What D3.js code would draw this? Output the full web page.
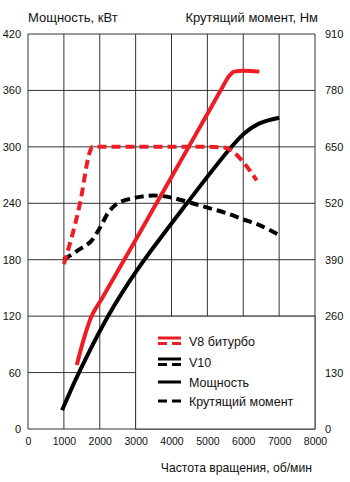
<!DOCTYPE html>
<html><head><meta charset="utf-8">
<script src="https://cdn.jsdelivr.net/npm/d3@7"></script>
<style>body{margin:0;background:#fff}svg{display:block}text{font-family:"Liberation Sans",Arial,sans-serif;fill:#111}</style>
</head><body><svg id="c" width="350" height="482"></svg>
<script>
// data
const xTicks = [0,1000,2000,3000,4000,5000,6000,7000,8000];
const powerTicks = [0,60,120,180,240,300,360,420];
const torqueTicks = [0,130,260,390,520,650,780,910];
const v8PowerRpm = [1360,1550,1750,2050,3000,4000,4420,5000,5400,5600,5750,6000,6450];
const v8PowerKw  = [68,95,118,138,201,268,296,335,362,375,380,381,380];
const v8TorqueRpm = [1000,1450,1730,1800,3000,4000,5000,5500,5700,6000,6375];
const v8TorqueNm  = [380,520,640,650,650,650,650,648,640,615,573];
const v10PowerRpm = [950,1420,2230,3040,4430,5650,6050,6450,7000];
const v10PowerKw  = [20,60,120,169,240,299,315,325,331];
const v10TorqueRpm = [990,1400,1750,2000,2250,2500,3000,3500,4000,4500,5000,5500,6000,6500,7000];
const v10TorqueNm  = [390,412,432,463,500,520,533,538,533,522,510,498,483,468,447];
const legendLabels = ["V8 битурбо","V10","Мощность","Крутящий момент"];

const svg = d3.select("#c");
const x = d3.scaleLinear().domain([0,8000]).range([28,315]);
const yP = d3.scaleLinear().domain([0,420]).range([429,34]);
const yT = d3.scaleLinear().domain([0,910]).range([429,34]);
const red = "#ee1c25", grid = "#333";

// grid
svg.append("g").selectAll("line").data(xTicks).join("line")
  .attr("x1",d=>x(d)).attr("x2",d=>x(d)).attr("y1",yP(0)).attr("y2",yP(420))
  .attr("stroke",grid).attr("stroke-width",1);
svg.append("g").selectAll("line").data(powerTicks).join("line")
  .attr("x1",x(0)).attr("x2",x(8000)).attr("y1",d=>yP(d)).attr("y2",d=>yP(d))
  .attr("stroke",grid).attr("stroke-width",1);

// legend box
svg.append("rect").attr("x",x(3000)).attr("y",yP(120)).attr("width",x(8000)-x(3000)).attr("height",yP(0)-yP(120))
  .attr("fill","#fff").attr("stroke",grid).attr("stroke-width",1);

// axes
const axL = svg.append("g").attr("transform",`translate(${x(0)},0)`).call(d3.axisLeft(yP).tickValues(powerTicks).tickSize(0).tickPadding(7));
const axR = svg.append("g").attr("transform",`translate(${x(8000)},0)`).call(d3.axisRight(yT).tickValues(torqueTicks).tickSize(0).tickPadding(10));
const axB = svg.append("g").attr("transform",`translate(0,${yP(0)})`).call(d3.axisBottom(x).tickValues(xTicks).tickFormat(d3.format("d")).tickSize(0).tickPadding(9));
[axL,axR,axB].forEach(a=>{a.select(".domain").remove();a.selectAll("text").style("font-family",'"Liberation Sans",Arial,sans-serif').attr("fill","#111");});
axL.selectAll("text").style("font-size","11px");
axR.selectAll("text").style("font-size","11px");
axB.selectAll("text").style("font-size","10.5px");

// titles
svg.append("text").attr("x",28).attr("y",22).style("font-size","13px").text("Мощность, кВт");
svg.append("text").attr("x",318).attr("y",22).attr("text-anchor","end").style("font-size","13px").text("Крутящий момент, Нм");
svg.append("text").attr("x",312).attr("y",472).attr("text-anchor","end").style("font-size","12.2px").text("Частота вращения, об/мин");

// lines
const lm = d3.line().curve(d3.curveMonotoneX);
const lc = d3.line().curve(d3.curveCatmullRom.alpha(0.5));
function draw(gen, rpm, vals, yS, color, dashed){
  svg.append("path").attr("d", gen(rpm.map((r,i)=>[x(r), yS(vals[i])])))
    .attr("fill","none").attr("stroke",color).attr("stroke-width",4)
    .attr("stroke-dasharray", dashed ? "9,5" : null);
}
draw(lc, v10TorqueRpm, v10TorqueNm, yT, "#000", true);
draw(lc, v10PowerRpm, v10PowerKw, yP, "#000", false);
draw(lm, v8TorqueRpm, v8TorqueNm, yT, red, true);
draw(lm, v8PowerRpm, v8PowerKw, yP, red, false);

// legend
const lg = svg.append("g");
const rows = [341,362,382,401];
const sx0 = 158, sx1 = 181;
lg.append("line").attr("x1",sx0).attr("x2",sx1).attr("y1",rows[0]-3).attr("y2",rows[0]-3).attr("stroke",red).attr("stroke-width",3);
lg.append("line").attr("x1",sx0).attr("x2",sx1).attr("y1",rows[0]+2.5).attr("y2",rows[0]+2.5).attr("stroke",red).attr("stroke-width",3).attr("stroke-dasharray","9,5");
lg.append("line").attr("x1",sx0).attr("x2",sx1).attr("y1",rows[1]-3).attr("y2",rows[1]-3).attr("stroke","#000").attr("stroke-width",3);
lg.append("line").attr("x1",sx0).attr("x2",sx1).attr("y1",rows[1]+2.5).attr("y2",rows[1]+2.5).attr("stroke","#000").attr("stroke-width",3).attr("stroke-dasharray","9,5");
lg.append("line").attr("x1",sx0).attr("x2",sx1).attr("y1",rows[2]).attr("y2",rows[2]).attr("stroke","#000").attr("stroke-width",3);
lg.append("line").attr("x1",sx0).attr("x2",sx1).attr("y1",rows[3]).attr("y2",rows[3]).attr("stroke","#000").attr("stroke-width",3).attr("stroke-dasharray","9,5");
lg.selectAll("text").data(legendLabels).join("text")
  .attr("x",189).attr("y",(d,i)=>rows[i]).attr("dy","0.36em").style("font-size","12.5px").text(d=>d);
</script></body></html>
